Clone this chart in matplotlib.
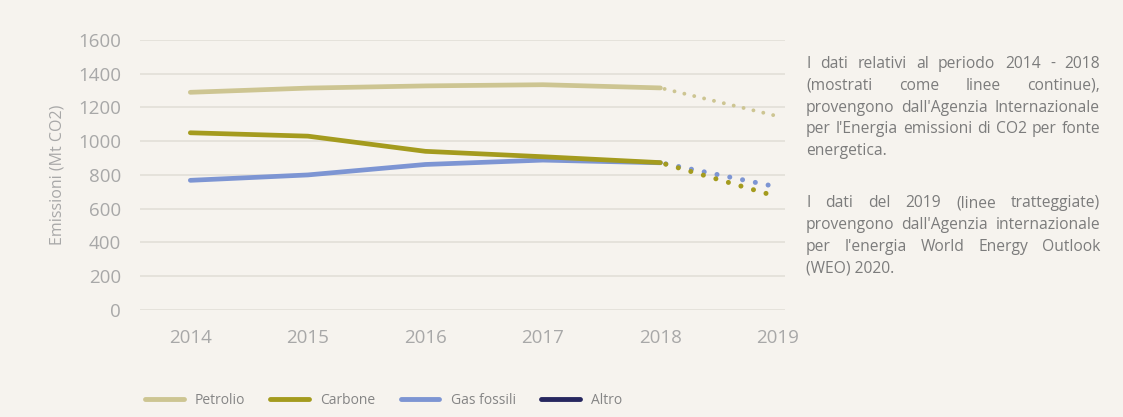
import matplotlib
matplotlib.use("Agg")
import matplotlib.pyplot as plt
from matplotlib.lines import Line2D

plt.rcParams['font.family'] = ['Open Sans', 'DejaVu Sans']

years = [2014, 2015, 2016, 2017, 2018]
year_2019 = 2019
petrolio = [1290, 1315, 1328, 1335, 1316]
carbone = [1050, 1030, 940, 908, 873]
gas_fossili = [768, 800, 862, 888, 872]
petrolio_2019 = 1148
carbone_2019 = 670
gas_fossili_2019 = 728

series = ['Petrolio', 'Carbone', 'Gas fossili', 'Altro']
colors = {'Petrolio': '#cdc592', 'Carbone': '#a49b1e',
          'Gas fossili': '#7d95d3', 'Altro': '#27275f'}

note_par1 = ["I dati relativi al periodo 2014 - 2018",
             "(mostrati come linee continue),",
             "provengono dall'Agenzia Internazionale",
             "per l'Energia emissioni di CO2 per fonte",
             "energetica."]
note_par2 = ["I dati del 2019 (linee tratteggiate)",
             "provengono dall'Agenzia internazionale",
             "per l'energia World Energy Outlook",
             "(WEO) 2020."]

bg = '#f6f3ee'
grey = '#a8a8a8'

fig = plt.figure(figsize=(11.23, 4.17), dpi=100, facecolor=bg)
ax = fig.add_axes([0.125, 0.257, 0.574, 0.647], facecolor=bg)

for name, vals, v19 in [('Petrolio', petrolio, petrolio_2019),
                        ('Gas fossili', gas_fossili, gas_fossili_2019),
                        ('Carbone', carbone, carbone_2019)]:
    c = colors[name]
    ax.plot(years, vals, color=c, lw=3.4, solid_capstyle='round',
            solid_joinstyle='round', zorder=3)
    dot_lw = 2.8 if name == 'Petrolio' else 3.6
    ax.plot([years[-1], year_2019], [vals[-1], v19], color=c, lw=dot_lw,
            linestyle=(1.5, (0.01, 2.6)), dash_capstyle='round', zorder=3)

ax.set_ylim(0, 1600)
ax.set_yticks(range(0, 1601, 200))
ax.set_xlim(2013.575, 2019.06)
ax.set_xticks(years + [year_2019])
ax.grid(axis='y', color='#e4e1da', lw=1.3)
ax.set_axisbelow(True)
for s in ax.spines.values():
    s.set_visible(False)
ax.tick_params(length=0, colors=grey, labelsize=13.5)
ax.tick_params(axis='y', pad=14)
ax.tick_params(axis='x', pad=14)
ax.set_ylabel('Emissioni (Mt CO2)', color=grey, fontsize=11.5, labelpad=9)

handles = [Line2D([], [], color=colors[n], lw=3.5, solid_capstyle='round')
           for n in series]
leg = fig.legend(handles, series, loc='center left', bbox_to_anchor=(0.118, 0.04),
                 ncol=4, frameon=False, fontsize=10, labelcolor='#858585',
                 handlelength=2.8, columnspacing=1.8, handletextpad=0.8)

# justified paragraph on the right
fig.canvas.draw()
renderer = fig.canvas.get_renderer()
x0, x1 = 806, 1100
line_h = 21.8
txt_color = '#7c7c7c'

# pick a size so the widest line fills the column
probe = fig.text(0, 0, max(note_par1 + note_par2, key=len), fontsize=10)
natural = probe.get_window_extent(renderer).width
probe.remove()
fs = 10 * (x1 - x0) / natural * 0.98


def justify(lines, top):
    for i, line in enumerate(lines):
        y = top - i * line_h
        words = line.split(' ')
        if i == len(lines) - 1 or len(words) == 1:
            fig.text(x0 / 1123, y / 417, line, fontsize=fs, color=txt_color,
                     va='baseline')
            continue
        arts = [fig.text(0, y / 417, w, fontsize=fs, color=txt_color,
                         va='baseline') for w in words]
        widths = [a.get_window_extent(renderer).width for a in arts]
        gap = (x1 - x0 - sum(widths)) / (len(words) - 1)
        x = x0
        for a, w in zip(arts, widths):
            a.set_x(x / 1123)
            x += w + gap


justify(note_par1, 417 - 68)
justify(note_par2, 417 - 207)

fig.savefig('out.png', dpi=100, facecolor=bg)
